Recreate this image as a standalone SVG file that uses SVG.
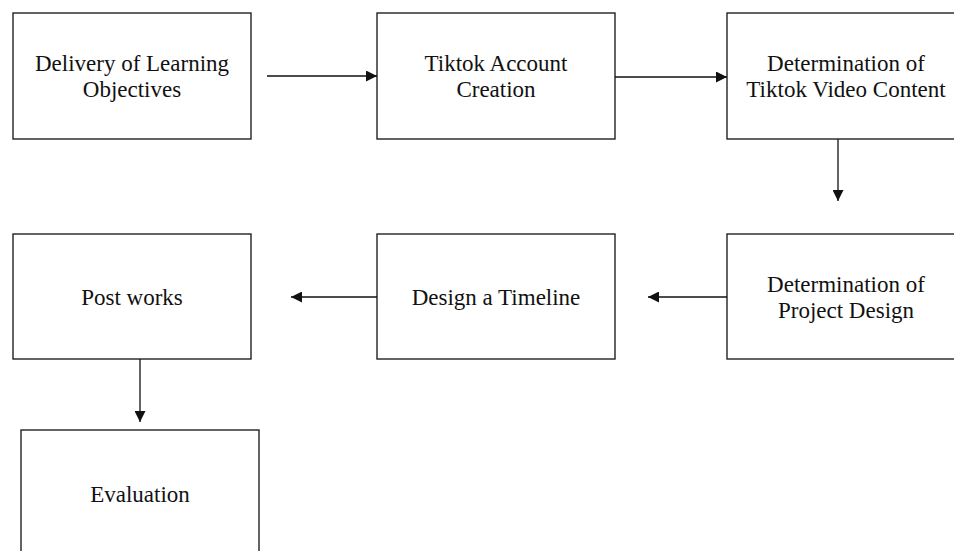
<svg xmlns="http://www.w3.org/2000/svg" width="954" height="551" viewBox="0 0 954 551">
<style>
.box{fill:#fff;stroke:#222;stroke-width:1.4}
.t{font-family:"Liberation Serif","Times New Roman",serif;font-size:23px;fill:#111;text-anchor:middle}
.c{stroke:#111;stroke-width:1.3;fill:none}
</style>
<defs>
<marker id="ah" viewBox="0 0 10 10" refX="10" refY="5" markerWidth="16" markerHeight="11" markerUnits="userSpaceOnUse" orient="auto">
<path d="M0,0 L10,5 L0,10 z" fill="#111"/>
</marker>
</defs>
<rect width="954" height="551" fill="#fff"/>
<g id="n1"><rect class="box" x="13" y="13" width="238" height="126"/><text class="t" x="132" y="71">Delivery of Learning</text><text class="t" x="132" y="97">Objectives</text></g>
<g id="n2"><rect class="box" x="377" y="13" width="238" height="126"/><text class="t" x="496" y="71">Tiktok Account</text><text class="t" x="496" y="97">Creation</text></g>
<g id="n3"><rect class="box" x="727" y="13" width="238" height="126"/><text class="t" x="846" y="71">Determination of</text><text class="t" x="846" y="97">Tiktok Video Content</text></g>
<g id="n4"><rect class="box" x="727" y="234" width="238" height="125"/><text class="t" x="846" y="292">Determination of</text><text class="t" x="846" y="318">Project Design</text></g>
<g id="n5"><rect class="box" x="377" y="234" width="238" height="125"/><text class="t" x="496" y="305">Design a Timeline</text></g>
<g id="n6"><rect class="box" x="13" y="234" width="238" height="125"/><text class="t" x="132" y="305">Post works</text></g>
<g id="n7"><rect class="box" x="21" y="430" width="238" height="130"/><text class="t" x="140" y="502">Evaluation</text></g>
<g id="connectors">
<line class="c" x1="267" y1="76" x2="377" y2="76" marker-end="url(#ah)"/>
<line class="c" x1="615" y1="77" x2="727" y2="77" marker-end="url(#ah)"/>
<line class="c" x1="838" y1="139" x2="838" y2="201" marker-end="url(#ah)"/>
<line class="c" x1="727" y1="297" x2="648" y2="297" marker-end="url(#ah)"/>
<line class="c" x1="377" y1="297" x2="291" y2="297" marker-end="url(#ah)"/>
<line class="c" x1="140" y1="359" x2="140" y2="422" marker-end="url(#ah)"/>
</g>
</svg>
